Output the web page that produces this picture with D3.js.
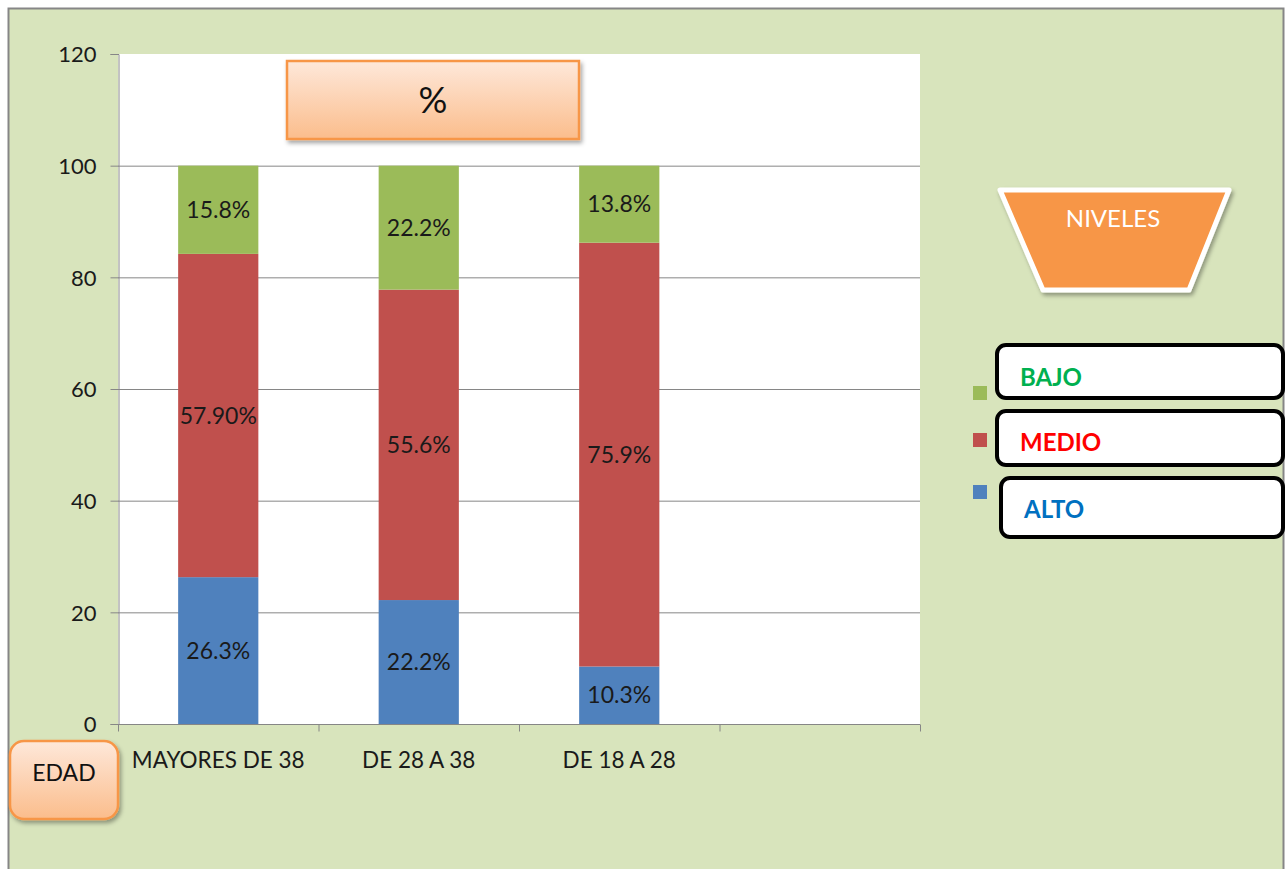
<!DOCTYPE html>
<html><head><meta charset="utf-8">
<script src="https://cdn.jsdelivr.net/npm/d3@7"></script>
<style>html,body{margin:0;padding:0;background:#fff;}svg{display:block;font-family:Lato,"Open Sans",sans-serif;}</style>
</head><body>
<script>
const categories = ["MAYORES DE 38", "DE 28 A 38", "DE 18 A 28", ""];
const alto  = [26.3, 22.2, 10.3];
const medio = [57.9, 55.6, 75.9];
const bajo  = [15.8, 22.2, 13.8];
const altoLabels  = ["26.3%", "22.2%", "10.3%"];
const medioLabels = ["57.90%", "55.6%", "75.9%"];
const bajoLabels  = ["15.8%", "22.2%", "13.8%"];
const yTicks = [0, 20, 40, 60, 80, 100, 120];
const seriesNames = ["ALTO", "MEDIO", "BAJO"];
const seriesColors = ["#4f81bd", "#c0504d", "#9bbb59"];

const W = 1288, H = 869;
const svg = d3.select("body").append("svg").attr("width", W).attr("height", H);
const defs = svg.append("defs");
const grad = defs.append("linearGradient").attr("id","og").attr("x1",0).attr("y1",0).attr("x2",0).attr("y2",1);
grad.append("stop").attr("offset","0%").attr("stop-color","#fee8da");
grad.append("stop").attr("offset","100%").attr("stop-color","#fbbd8c");
const sh = defs.append("filter").attr("id","sh").attr("x","-20%").attr("y","-20%").attr("width","150%").attr("height","160%");
sh.append("feDropShadow").attr("dx",2).attr("dy",3).attr("stdDeviation",2).attr("flood-color","#000").attr("flood-opacity",0.35);

svg.append("rect").attr("x",0).attr("y",0).attr("width",W).attr("height",H).attr("fill","#fff");
svg.append("rect").attr("x",8.5).attr("y",8.5).attr("width",1275).attr("height",870)
  .attr("fill","#d8e4bc").attr("stroke","#868686").attr("stroke-width",2);

const L = 118, R = 920, T = 54, B = 724;
const xOuter = d3.scaleBand().domain(categories.map((c,i)=>i)).range([L,R]);
const barW = xOuter.bandwidth() * 0.4;
const y = d3.scaleLinear().domain([0,120]).range([B,T]);

svg.append("rect").attr("x",L).attr("y",T).attr("width",R-L).attr("height",B-T).attr("fill","#fff");

svg.append("g").selectAll("line").data(yTicks.filter(t=>t>0 && t<120)).join("line")
  .attr("x1",L).attr("x2",R).attr("y1",d=>y(d)+0.5).attr("y2",d=>y(d)+0.5)
  .attr("stroke","#868686").attr("stroke-width",1);

const ya = svg.append("g").attr("transform",`translate(${L+0.5},0)`)
  .call(d3.axisLeft(y).tickValues(yTicks).tickSize(8).tickPadding(14));
ya.select(".domain").attr("stroke","#868686");
ya.selectAll(".tick line").attr("stroke","#868686");
ya.selectAll("text").attr("font-size",22).attr("fill","#1a1a1a").attr("font-family","Lato, sans-serif").attr("dy","0.35em");

const stack = categories.slice(0,3).map((c,i)=>{
  const segs = [alto[i], medio[i], bajo[i]];
  const labels = [altoLabels[i], medioLabels[i], bajoLabels[i]];
  let acc = 0;
  return segs.map((v,k)=>{const s={i,k,y0:acc,y1:acc+v,label:labels[k]}; acc+=v; return s;});
}).flat();
const cx = i => xOuter(i) + xOuter.bandwidth()/2;
svg.append("g").selectAll("rect").data(stack).join("rect")
  .attr("x",d=>cx(d.i)-barW/2).attr("width",barW)
  .attr("y",d=>y(d.y1)).attr("height",d=>y(d.y0)-y(d.y1))
  .attr("fill",d=>seriesColors[d.k]);
svg.append("g").selectAll("text").data(stack).join("text")
  .attr("x",d=>cx(d.i)).attr("y",d=>y((d.y0+d.y1)/2)+8)
  .attr("text-anchor","middle").attr("font-size",23).attr("fill","#1a1a1a")
  .text(d=>d.label);

const xa = svg.append("g").attr("transform",`translate(0,${B+0.5})`);
xa.append("line").attr("x1",L).attr("x2",R).attr("stroke","#868686");
const bounds = categories.map((c,i)=>xOuter(i)).concat([R]);
xa.selectAll("line.tk").data(bounds).join("line").attr("class","tk")
  .attr("x1",d=>d+0.5).attr("x2",d=>d+0.5).attr("y1",0).attr("y2",7).attr("stroke","#868686");
xa.selectAll("text").data(categories).join("text")
  .attr("x",(d,i)=>cx(i)).attr("y",43)
  .attr("text-anchor","middle").attr("font-size",22.5).attr("fill","#1a1a1a").text(d=>d);

svg.append("rect").attr("x",287).attr("y",61).attr("width",292).attr("height",78)
  .attr("fill","url(#og)").attr("stroke","#f79646").attr("stroke-width",2.5).attr("filter","url(#sh)");
svg.append("text").attr("x",433).attr("y",113).attr("text-anchor","middle").attr("font-size",36).attr("fill","#111").text("%");

svg.append("rect").attr("x",10).attr("y",741).attr("width",108).attr("height",78).attr("rx",14)
  .attr("fill","url(#og)").attr("stroke","#f79646").attr("stroke-width",2.5).attr("filter","url(#sh)");
svg.append("text").attr("x",64).attr("y",781).attr("text-anchor","middle").attr("font-size",23).attr("fill","#111").text("EDAD");

svg.append("path").attr("d","M1000,190 L1229,190 L1189,290 L1043,290 Z")
  .attr("fill","#f79646").attr("stroke","#fff").attr("stroke-width",5).attr("stroke-linejoin","round").attr("filter","url(#sh)");
svg.append("text").attr("x",1113).attr("y",227).attr("text-anchor","middle").attr("font-size",24).attr("fill","#fff").text("NIVELES");

const legY = [492, 440, 393];
svg.append("g").selectAll("rect").data(seriesNames).join("rect")
  .attr("x",973).attr("y",(d,i)=>legY[i]-7).attr("width",14).attr("height",14)
  .attr("fill",(d,i)=>seriesColors[i]);

const boxes = [
  {name:"BAJO", x:997, y:345, h:53, color:"#00b050", tx:1020, ty:386},
  {name:"MEDIO", x:997, y:411, h:54, color:"#ff0000", tx:1020, ty:451},
  {name:"ALTO", x:1001, y:478, h:59, color:"#0070c0", tx:1024, ty:518}
];
svg.append("g").selectAll("rect").data(boxes).join("rect")
  .attr("x",d=>d.x).attr("y",d=>d.y).attr("width",d=>1283-d.x).attr("height",d=>d.h).attr("rx",9)
  .attr("fill","#fff").attr("stroke","#000").attr("stroke-width",4);
svg.append("g").selectAll("text").data(boxes).join("text")
  .attr("x",d=>d.tx).attr("y",d=>d.ty).attr("font-size",24).attr("font-weight","bold")
  .attr("fill",d=>d.color).text(d=>d.name);
</script>
</body></html>
